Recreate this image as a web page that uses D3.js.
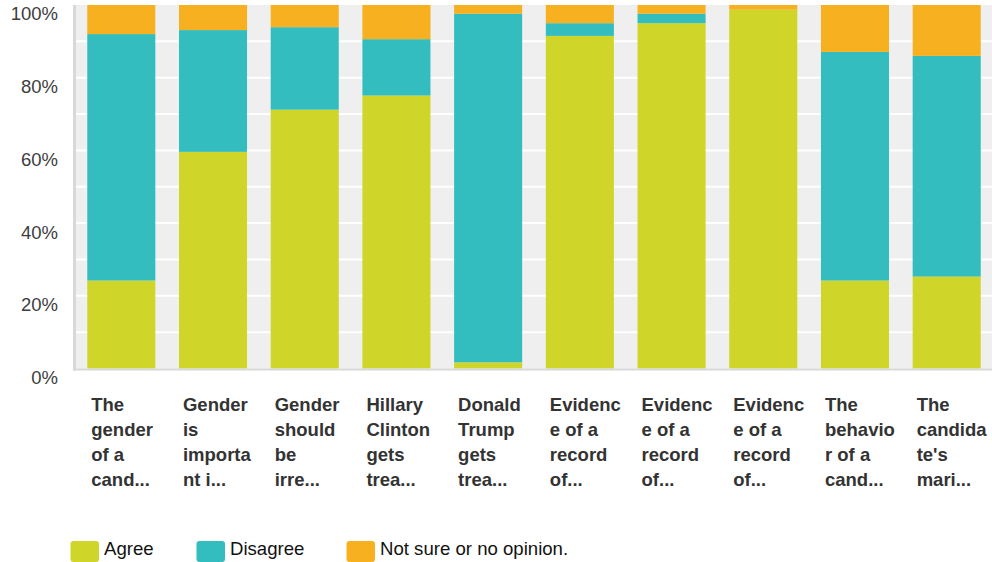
<!DOCTYPE html>
<html>
<head>
<meta charset="utf-8">
<script src="https://cdn.jsdelivr.net/npm/d3@7"></script>
<style>
  html, body { margin: 0; padding: 0; background: #fff; }
  svg { display: block; font-family: "Liberation Sans", Arial, sans-serif; }
</style>
</head>
<body>
<svg id="chart" width="992" height="562"></svg>
<script>
const categories = [
  "The gender of a cand...",
  "Gender is important i...",
  "Gender should be irre...",
  "Hillary Clinton gets trea...",
  "Donald Trump gets trea...",
  "Evidence of a record of...",
  "Evidence of a record of...",
  "Evidence of a record of...",
  "The behavior of a cand...",
  "The candidate's mari..."
];
const categoryLines = [
  ["The", "gender", "of a", "cand..."],
  ["Gender", "is", "importa", "nt i..."],
  ["Gender", "should", "be", "irre..."],
  ["Hillary", "Clinton", "gets", "trea..."],
  ["Donald", "Trump", "gets", "trea..."],
  ["Evidenc", "e of a", "record", "of..."],
  ["Evidenc", "e of a", "record", "of..."],
  ["Evidenc", "e of a", "record", "of..."],
  ["The", "behavio", "r of a", "cand..."],
  ["The", "candida", "te's", "mari..."]
];
const seriesNames = ["Agree", "Disagree", "Not sure or no opinion."];
const agree    = [24.2, 59.6, 71.2, 75.1, 1.7, 91.5, 95.0, 98.7, 24.2, 25.3];
const disagree = [67.8, 33.5, 22.7, 15.5, 95.9, 3.5, 2.6, 0.0, 62.9, 60.7];
const notSure  = [8.0, 6.9, 6.1, 9.4, 2.4, 5.0, 2.4, 1.3, 12.9, 14.0];
const yTicks = [0, 20, 40, 60, 80, 100];
const gridTicks = [10, 20, 30, 40, 50, 60, 70, 80, 90];
const colors = ["#d0d52a", "#33bdbe", "#f7b020"];

const svg = d3.select("#chart");
const x = d3.scaleBand().domain(d3.range(categories.length)).range([76, 992])
  .paddingInner(0.258).paddingOuter(0.123);
const y = d3.scaleLinear().domain([0, 100]).range([368.5, 5]);

// plot background
svg.append("rect").attr("x", 76).attr("y", y(100)).attr("width", 992 - 76)
  .attr("height", y(0) - y(100)).attr("fill", "#efefef");

// grid lines
svg.append("g").selectAll("line").data(gridTicks).join("line")
  .attr("x1", 76).attr("x2", 992)
  .attr("y1", d => y(d)).attr("y2", d => y(d))
  .attr("stroke", "#ffffff").attr("stroke-width", 2);

// stacked data
const rows = categories.map((c, i) => ({ i, Agree: agree[i], Disagree: disagree[i], "Not sure or no opinion.": notSure[i] }));
const stack = d3.stack().keys(seriesNames)(rows);

svg.append("g").selectAll("g").data(stack).join("g")
  .attr("fill", (d, k) => colors[k])
  .selectAll("rect").data(d => d).join("rect")
  .attr("x", d => x(d.data.i))
  .attr("width", x.bandwidth())
  .attr("y", d => y(d[1]))
  .attr("height", d => Math.max(0, y(d[0]) - y(d[1])));

// axis lines
svg.append("rect").attr("x", 73).attr("y", y(100)).attr("width", 3)
  .attr("height", y(0) - y(100) + 2).attr("fill", "#d8d8d8");
svg.append("rect").attr("x", 73).attr("y", y(0)).attr("width", 992 - 73)
  .attr("height", 2).attr("fill", "#d8d8d8");

// y axis labels
const yAxis = d3.axisLeft(y).tickValues(yTicks).tickFormat(d => d + "%").tickSize(0).tickPadding(0);
const yg = svg.append("g").attr("transform", "translate(58,9)").call(yAxis);
yg.select(".domain").remove();
yg.selectAll("text").attr("font-size", "18.5px").attr("fill", "#3d3d3d")
  .attr("font-family", "'Liberation Sans', Arial, sans-serif");

// x axis labels
const xl = svg.append("g").selectAll("text").data(categoryLines).join("text")
  .attr("x", (d, i) => x(i) + 4)
  .attr("y", 410.5)
  .attr("font-size", "18.5px").attr("font-weight", "bold").attr("fill", "#333333");
xl.selectAll("tspan").data((d, i) => d.map(t => ({ t, i }))).join("tspan")
  .attr("x", d => x(d.i) + 4)
  .attr("dy", (d, j) => j === 0 ? 0 : 25)
  .text(d => d.t);

// legend
const legendX = [70.5, 196.5, 346.5];
const lg = svg.append("g").selectAll("g").data(seriesNames).join("g")
  .attr("transform", (d, k) => `translate(${legendX[k]},541)`);
lg.append("rect").attr("width", 28.5).attr("height", 21).attr("rx", 3)
  .attr("fill", (d, k) => colors[k]);
lg.append("text").attr("x", 33.5).attr("y", 14).attr("font-size", "18.6px")
  .attr("fill", "#111").text(d => d);
</script>
</body>
</html>
